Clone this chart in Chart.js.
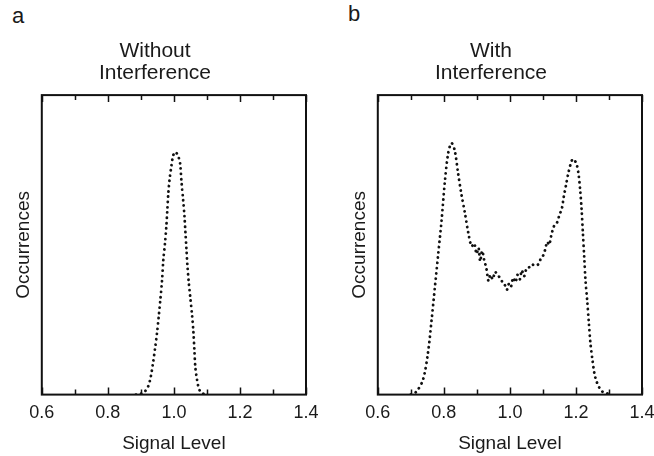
<!DOCTYPE html>
<html>
<head>
<meta charset="utf-8">
<script src="https://cdn.jsdelivr.net/npm/chart.js@4"></script>
<style>
  html, body { margin: 0; padding: 0; background: #fff; overflow: hidden; }
  body { width: 654px; height: 456px; position: relative; }
  .panel { position: absolute; top: 0; }
  .letra { position: absolute; font-family: "Liberation Sans", Arial, sans-serif; font-size: 22px; color: #1a1a1a; }
</style>
</head>
<body>
<div class="letra" style="left:12px; top:3px;">a</div>
<div class="letra" style="left:348px; top:1px;">b</div>
<canvas id="graficoA" class="panel" style="left:0px;" width="328" height="456"></canvas>
<canvas id="graficoB" class="panel" style="left:336px;" width="328" height="456"></canvas>
<script>
// Datos
const titulosPanel = [['Without', 'Interference'], ['With', 'Interference']];
const ticksX = [0.6, 0.8, 1.0, 1.2, 1.4];

// a - sin interferencia
const nivelA = [0.885, 0.900, 0.910, 0.922, 0.930, 0.937, 0.943, 0.949, 0.954, 0.959,
    0.964, 0.968, 0.973, 0.977, 0.980, 0.983, 0.987, 0.992, 0.997, 1.003,
    1.009, 1.015, 1.019, 1.023, 1.028, 1.032, 1.035, 1.038, 1.041, 1.045,
    1.050, 1.055, 1.059, 1.062, 1.065, 1.070, 1.074, 1.080, 1.089, 1.095];
const ocurrA = [0, 0.3, 0.8, 2.7, 6, 10.7, 15.5, 20.7, 26, 31.7,
    38, 45, 50.5, 56, 61.5, 67, 72, 76, 79.5, 81,
    80.5, 79, 77, 71, 65, 59.5, 54, 48.5, 43, 37.5,
    32, 26.5, 21, 15, 9, 5, 2.7, 1, 0.3, 0];

// b - con interferencia
const nivelB = [0.700, 0.717, 0.737, 0.752, 0.763, 0.773, 0.783, 0.793, 0.803, 0.813,
    0.823, 0.833, 0.843, 0.853, 0.864, 0.874, 0.884, 0.892, 0.899, 0.905,
    0.910, 0.916, 0.922, 0.929, 0.935, 0.941, 0.948, 0.955, 0.962, 0.970,
    0.978, 0.985, 0.991, 0.997, 1.003, 1.010, 1.017, 1.023, 1.030, 1.036,
    1.043, 1.050, 1.058, 1.066, 1.076, 1.086, 1.094, 1.101, 1.107, 1.113,
    1.119, 1.125, 1.131, 1.137, 1.143, 1.150, 1.157, 1.163, 1.170, 1.177,
    1.184, 1.190, 1.197, 1.202, 1.208, 1.213, 1.217, 1.221, 1.225, 1.229,
    1.234, 1.239, 1.244, 1.250, 1.256, 1.262, 1.270, 1.280, 1.293, 1.300];
const ocurrB = [0, 1, 5, 14, 25, 36, 47, 58, 71, 80.5,
    84, 81.5, 74, 67, 60.5, 54, 49.5, 50.5, 47, 49,
    44.5, 48, 45, 42, 38, 40, 38.5, 41, 40, 39,
    37.5, 36.5, 35, 37, 36, 39, 37.5, 40, 38.5, 41.5,
    39.5, 42, 42.5, 43.5, 43, 43.5, 45.5, 46.5, 48.5, 51,
    50, 53, 55.5, 57, 57.5, 60, 62, 66, 70, 74,
    77, 78.6, 78, 77, 73.5, 68, 62, 54, 46, 38,
    31.5, 24, 17, 11.5, 7, 4.5, 2.5, 1, 0.5, 0];

const fuente = '"Liberation Sans", Arial, sans-serif';
const colorTexto = '#1a1a1a';

// Caja y marcas hacia dentro
const cajaPlugin = {
    id: 'caja',
    afterDraw: function(chart) {
        const ctx = chart.ctx;
        const area = chart.chartArea;
        const escala = chart.scales.x;
        ctx.save();
        ctx.strokeStyle = '#111';
        ctx.lineWidth = 1.5;
        escala.ticks.forEach(t => {
            const px = Math.round(escala.getPixelForValue(t.value)) + 0.5;
            const largo = Math.round(t.value * 10) % 2 === 0 ? 7 : 5;
            ctx.beginPath();
            ctx.moveTo(px, area.bottom);
            ctx.lineTo(px, area.bottom - largo);
            ctx.moveTo(px, area.top);
            ctx.lineTo(px, area.top + largo);
            ctx.stroke();
        });
        ctx.lineWidth = 2;
        ctx.strokeRect(area.left, area.top, area.right - area.left, area.bottom - area.top);
        ctx.restore();
    }
};

function crearGrafico(id, titulo, nivel, ocurr) {
    const puntos = nivel.map((x, i) => ({ x: x, y: ocurr[i] }));
    const ctx = document.getElementById(id).getContext('2d');
    return new Chart(ctx, {
        type: 'line',
        data: {
            datasets: [{
                data: puntos,
                borderColor: '#111',
                borderWidth: 2.8,
                borderDash: [0.1, 5.2],
                borderCapStyle: 'round',
                pointRadius: 0,
                tension: 0.3,
                fill: false
            }]
        },
        options: {
            responsive: false,
            animation: false,
            layout: { padding: { left: 4, right: 22, top: 0, bottom: 1 } },
            plugins: {
                legend: { display: false },
                tooltip: { enabled: false },
                title: {
                    display: true,
                    text: titulo,
                    color: colorTexto,
                    font: { family: fuente, size: 21, weight: 'normal', lineHeight: 1.05 },
                    padding: { top: 40, bottom: 11 }
                }
            },
            scales: {
                x: {
                    type: 'linear',
                    min: 0.6,
                    max: 1.4,
                    grid: { display: false, drawTicks: false },
                    border: { display: false },
                    ticks: {
                        stepSize: 0.1,
                        autoSkip: false,
                        maxRotation: 0,
                        padding: 8,
                        color: colorTexto,
                        font: { family: fuente, size: 18 },
                        callback: (v) => ticksX.some(t => Math.abs(t - v) < 1e-6) ? v.toFixed(1) : ''
                    },
                    title: {
                        display: true,
                        text: 'Signal Level',
                        color: colorTexto,
                        font: { family: fuente, size: 19 },
                        padding: { top: 0, bottom: 0 }
                    }
                },
                y: {
                    min: 0,
                    max: 100,
                    grid: { display: false, drawTicks: false },
                    border: { display: false },
                    ticks: { display: false },
                    title: {
                        display: true,
                        text: 'Occurrences',
                        color: colorTexto,
                        font: { family: fuente, size: 19 },
                        padding: { top: 8, bottom: 7 }
                    }
                }
            }
        },
        plugins: [cajaPlugin]
    });
}

crearGrafico('graficoA', titulosPanel[0], nivelA, ocurrA);
crearGrafico('graficoB', titulosPanel[1], nivelB, ocurrB);
</script>
</body>
</html>
